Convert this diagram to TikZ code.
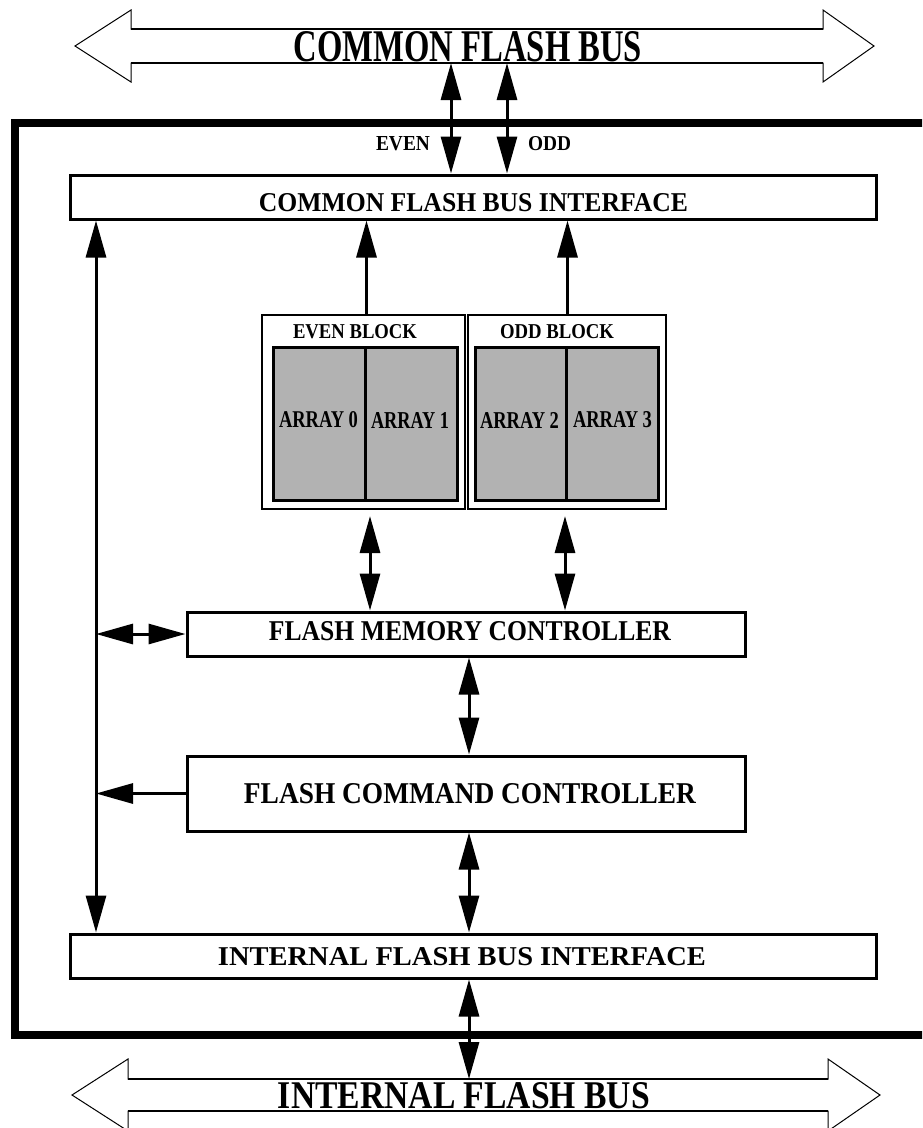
\documentclass[tikz,border=0pt]{standalone}
\usepackage{fontspec}
\setmainfont{Liberation Serif}
\usetikzlibrary{arrows.meta}
\newcommand\fittext[3]{\resizebox{#1pt}{#2pt}{\bfseries #3}}
\begin{document}
\begin{tikzpicture}[x=1pt,y=-1pt,
  box/.style={draw, line width=3pt, fill=white, inner sep=0pt},
  arraybox/.style={draw, line width=3pt, fill=black!30, inner sep=0pt},
  lbl/.style={inner sep=0pt, outer sep=0pt},
  conn/.style={line width=3pt, -{Triangle[length=37pt,width=20pt]}},
  dconn/.style={line width=3pt, {Triangle[length=37pt,width=20pt]}-{Triangle[length=37pt,width=20pt]}},
  busoutline/.style={draw=black, fill=white, line width=1pt, line join=miter},
  busline/.style={line width=2pt}]
\useasboundingbox (0,0) rectangle (922,1128);
\clip (0,0) rectangle (922,1128);

% outer border
\draw[line width=8pt] (15,123) rectangle (960,1035);

% common flash bus
\draw[busoutline] (75,46) -- (131,10) -- (131,29) -- (823,29) -- (823,10) -- (874,46)
  -- (823,82) -- (823,63) -- (131,63) -- (131,82) -- cycle;
\draw[busline] (131,29) -- (823,29) (131,63) -- (823,63);
\node[lbl] (cfb) at (468,47) {\fittext{348}{30}{COMMON FLASH BUS}};
\coordinate (cfbE) at (451,63);
\coordinate (cfbO) at (507,63);

% internal flash bus
\draw[busoutline] (72,1095) -- (128,1059) -- (128,1079) -- (828,1079) -- (828,1059) -- (880,1095)
  -- (828,1131) -- (828,1111) -- (128,1111) -- (128,1131) -- cycle;
\draw[busline] (128,1079) -- (828,1079) (128,1111) -- (828,1111);
\node[lbl] (ifb) at (464,1096) {\fittext{372}{26}{INTERNAL FLASH BUS}};
\coordinate (ifbT) at (469,1079);

% boxes
\node[box, minimum width=806pt, minimum height=44pt] (cfbi) at (473,197) {};
\node[lbl] (cfbit) at (473.5,203) {\fittext{429}{18}{COMMON FLASH BUS INTERFACE}};

\node[box, line width=2.5pt, minimum width=203pt, minimum height=194pt] (evb) at (363.5,412) {};
\node[box, line width=2.5pt, minimum width=198pt, minimum height=194pt] (odb) at (567,412) {};
\node[lbl] (evbt) at (355,332) {\fittext{124}{14}{EVEN BLOCK}};
\node[lbl] (odbt) at (557,332) {\fittext{114}{14}{ODD BLOCK}};

\node[arraybox, minimum width=92pt, minimum height=153pt] (a0) at (319,423.5) {};
\node[arraybox, minimum width=92pt, minimum height=153pt] (a1) at (411,423.5) {};
\node[arraybox, minimum width=91pt, minimum height=153pt] (a2) at (520.5,423.5) {};
\node[arraybox, minimum width=92pt, minimum height=153pt] (a3) at (612,423.5) {};
\node[lbl] (a0t) at (318.5,420) {\fittext{79}{16}{ARRAY 0}};
\node[lbl] (a1t) at (410,420) {\fittext{78}{16}{ARRAY 1}};
\node[lbl] (a2t) at (519.5,420) {\fittext{79}{16}{ARRAY 2}};
\node[lbl] (a3t) at (612.5,420) {\fittext{79}{16}{ARRAY 3}};

\node[box, minimum width=558pt, minimum height=44pt] (fmc) at (466,634) {};
\node[lbl] (fmct) at (470,631.5) {\fittext{402}{19}{FLASH MEMORY CONTROLLER}};

\node[box, minimum width=558pt, minimum height=75pt] (fcc) at (466,793.5) {};
\node[lbl] (fcct) at (470,794) {\fittext{452}{20}{FLASH COMMAND CONTROLLER}};

\node[box, minimum width=806pt, minimum height=44pt] (ifbi) at (473,956) {};
\node[lbl] (ifbit) at (462,957) {\fittext{488}{18}{INTERNAL FLASH BUS INTERFACE}};

% labels EVEN / ODD
\node[lbl] (evl) at (403,144) {\fittext{54}{14}{EVEN}};
\node[lbl] (odl) at (549.5,144) {\fittext{43}{14}{ODD}};

% connectors
\draw[dconn] (cfbE) -- (cfbE |- cfbi.north);
\draw[dconn] (cfbO) -- (cfbO |- cfbi.north);

\draw[conn] (a0.east |- evb.north) -- (a0.east |- cfbi.south);
\draw[conn] (a2.east |- odb.north) -- (a2.east |- cfbi.south);

\coordinate (evdn) at (370,516);
\coordinate (oddn) at (565,516);
\draw[dconn] (evdn) -- (evdn |- fmc.north);
\draw[dconn] (oddn) -- (oddn |- fmc.north);

\coordinate (lvx) at (96,500);
\draw[dconn] (lvx |- cfbi.south) -- (lvx |- ifbi.north);
\draw[dconn] (lvx |- fmc.west) -- (fmc.west);
\draw[conn] (fcc.west) -- (lvx |- fcc.west);

\coordinate (cx) at (469,500);
\draw[dconn] (cx |- fmc.south) -- (cx |- fcc.north);
\draw[dconn] (cx |- fcc.south) -- (cx |- ifbi.north);
\draw[dconn] (cx |- ifbi.south) -- (ifbT);
\end{tikzpicture}
\end{document}
